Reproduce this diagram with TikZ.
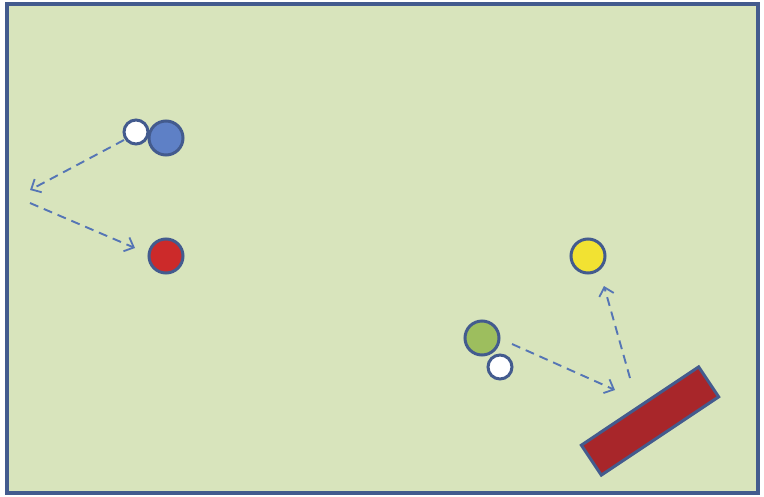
\documentclass[tikz,border=0pt]{standalone}
\usepackage{tikz}
\usetikzlibrary{arrows.meta,calc,positioning}
\definecolor{tablegreen}{HTML}{D8E4BC}
\definecolor{frameblue}{HTML}{435B8E}
\definecolor{ballblue}{HTML}{5E80C6}
\definecolor{ballred}{HTML}{CC2A2A}
\definecolor{ballyellow}{HTML}{F2E232}
\definecolor{ballgreen}{HTML}{9DBE5E}
\definecolor{cushionred}{HTML}{A8262A}
\definecolor{pathblue}{HTML}{5575B5}
\tikzset{
  ball/.style={circle,draw=frameblue,line width=3pt,minimum size=34pt,inner sep=0pt},
  cueball/.style={circle,draw=frameblue,line width=3pt,fill=white,minimum size=24pt,inner sep=0pt},
  shot/.style={-{Straight Barb[length=8pt,width=15pt,line width=1.8pt]},pathblue,line width=1.9pt,dash pattern=on 9pt off 6pt},
  cushion/.style={draw=frameblue,line width=3pt,fill=cushionred,minimum width=141pt,minimum height=36pt,inner sep=0pt,rotate=33.7}
}
\begin{document}
\begin{tikzpicture}[x=1pt,y=-1pt]
  \useasboundingbox (0,0) rectangle (764,496);
  \draw[frameblue,line width=3.5pt,fill=tablegreen] (7,4) rectangle (758,493);
  % left shot
  \node[ball,fill=ballblue] (blue) at (166,138) {};
  \node[cueball] (cueA) at (136,132) {};
  \node[ball,fill=ballred] (red) at (166,256) {};
  \coordinate (startA) at (124,140);
  \coordinate (hitA) at (30,190);
  \coordinate (offA) at (30,203);
  \coordinate (endA) at (135,248);
  \draw[shot] (startA) -- (hitA);
  \draw[shot] (offA) -- (endA);
  % right shot
  \node[ball,fill=ballyellow] (yellow) at (588,256) {};
  \node[ball,fill=ballgreen] (green) at (482,338) {};
  \node[cueball] (cueB) at (500,367) {};
  \node[cushion] (rail) at (650,421) {};
  \coordinate (startB) at (512,344);
  \coordinate (hitB) at (615,390);
  \coordinate (offB) at (630,378);
  \coordinate (endB) at (604,286);
  \draw[shot] (startB) -- (hitB);
  \draw[shot] (offB) -- (endB);
\end{tikzpicture}
\end{document}
